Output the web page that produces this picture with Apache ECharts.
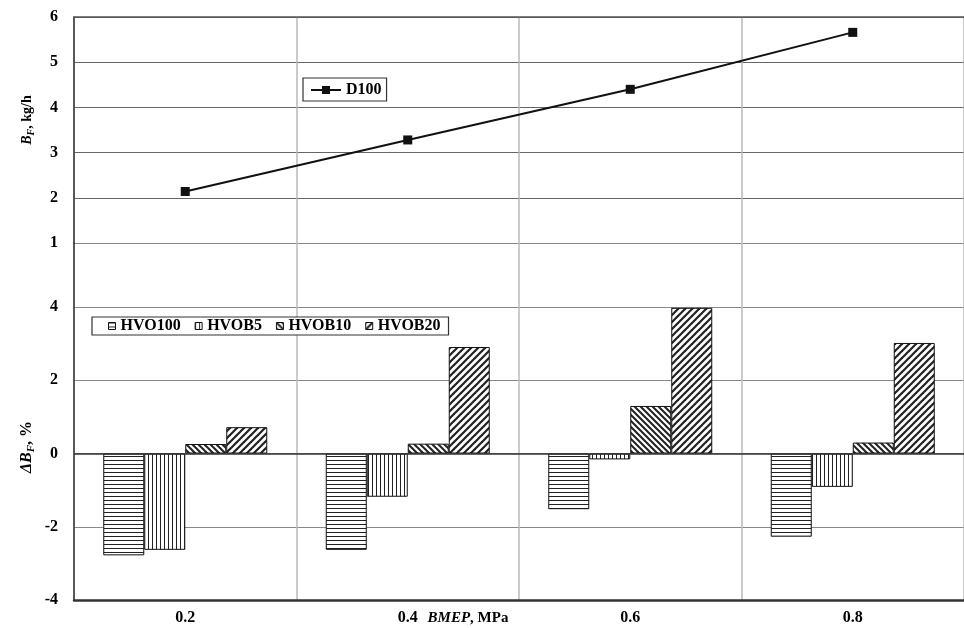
<!DOCTYPE html>
<html>
<head>
<meta charset="utf-8">
<script src="https://cdn.jsdelivr.net/npm/echarts@6/dist/echarts.min.js"></script>
<style>
html,body{margin:0;padding:0;background:#fff;}
#chart{width:964px;height:628px;}
</style>
</head>
<body>
<div id="chart"></div>
<script>
// ---- data ----
const categories = ['0.2', '0.4', '0.6', '0.8'];
const d100 = [2.14, 3.28, 4.40, 5.66];
const hvo100 = [-2.78, -2.63, -1.52, -2.27];
const hvob5 = [-2.63, -1.18, -0.16, -0.91];
const hvob10 = [0.26, 0.27, 1.30, 0.30];
const hvob20 = [0.72, 2.91, 3.98, 3.02];
const topTicks = [1, 2, 3, 4, 5, 6];
const bottomTicks = [-4, -2, 0, 2, 4];

// ---- patterns ----
function tile(w, h, draw) {
  const c = document.createElement('canvas');
  c.width = w; c.height = h;
  const ctx = c.getContext('2d');
  ctx.fillStyle = '#fff';
  ctx.fillRect(0, 0, w, h);
  ctx.strokeStyle = '#222';
  ctx.fillStyle = '#222';
  draw(ctx, w, h);
  return { image: c, repeat: 'repeat' };
}
const patH = tile(4, 4, (ctx, w) => { ctx.fillRect(0, 0, w, 1); });
const patV = tile(4, 4, (ctx, w, h) => { ctx.fillRect(0, 0, 1, h); });
function diag(n, lw, forward) {
  return tile(n, n, (ctx) => {
    ctx.lineWidth = lw;
    ctx.lineCap = 'square';
    const segs = forward
      ? [[-n, n, n, -n], [0, n, n, 0], [0, 2 * n, 2 * n, 0]]
      : [[-n, 0, n, 2 * n], [0, 0, n, n], [0, -n, 2 * n, n]];
    segs.forEach(s => { ctx.beginPath(); ctx.moveTo(s[0], s[1]); ctx.lineTo(s[2], s[3]); ctx.stroke(); });
  });
}
const patBack = diag(6, 2, false);
const patFwd = diag(7, 2.2, true);

const FONT = '"Liberation Serif", "Times New Roman", serif';
const lblStyle = { fontFamily: FONT, fontWeight: 'bold', fontSize: 16, color: '#000' };

const chart = echarts.init(document.getElementById('chart'), null, { renderer: 'canvas' });

function barSeries(name, data, pat, extra) {
  return Object.assign({
    name: name,
    type: 'bar',
    xAxisIndex: 1,
    yAxisIndex: 1,
    data: data,
    barWidth: 41,
    barGap: '0%',
    itemStyle: { color: pat, borderColor: '#111', borderWidth: 1 },
    emphasis: { disabled: true },
    animation: false
  }, extra || {});
}

function makeRich(fs) {
  return {
    i: { fontFamily: FONT, fontStyle: 'italic', fontWeight: 'bold', fontSize: fs, lineHeight: fs + 2, verticalAlign: 'top', fill: '#000' },
    n: { fontFamily: FONT, fontWeight: 'bold', fontSize: fs, lineHeight: fs + 2, verticalAlign: 'top', fill: '#000' },
    s: { fontFamily: FONT, fontStyle: 'italic', fontWeight: 'bold', fontSize: Math.round(fs * 0.7), lineHeight: 8, verticalAlign: 'bottom', fill: '#000' }
  };
}

const option = {
  backgroundColor: '#fff',
  animation: false,
  grid: [
    { left: 74, top: 17, width: 892, height: 226 },
    { left: 74, top: 243, width: 892, height: 357 }
  ],
  xAxis: [
    {
      type: 'category', gridIndex: 0, data: categories, position: 'top',
      axisLine: { show: true, lineStyle: { color: '#555', width: 1.5 } },
      axisTick: { show: false }, axisLabel: { show: false },
      splitLine: { show: true, lineStyle: { color: '#b8b8b8', width: 1.5 } }
    },
    {
      type: 'category', gridIndex: 1, data: categories, position: 'bottom',
      axisLine: { show: true, onZero: false, lineStyle: { color: '#333', width: 2.5 } },
      axisTick: { show: false },
      axisLabel: Object.assign({ margin: 10 }, lblStyle),
      splitLine: { show: true, lineStyle: { color: '#b8b8b8', width: 1.5 } }
    }
  ],
  yAxis: [
    {
      type: 'value', gridIndex: 0, min: topTicks[0], max: topTicks[topTicks.length - 1], interval: 1,
      axisLine: { show: true, lineStyle: { color: '#333', width: 1.5 } },
      axisTick: { show: false },
      axisLabel: Object.assign({ margin: 16 }, lblStyle),
      splitLine: { show: true, lineStyle: { color: '#666', width: 1.2 } }
    },
    {
      type: 'value', gridIndex: 1, min: bottomTicks[0], max: 5.75, interval: 2,
      axisLine: { show: true, lineStyle: { color: '#333', width: 1.5 } },
      axisTick: { show: false },
      axisLabel: Object.assign({
        margin: 16, showMaxLabel: false,
        formatter: v => (bottomTicks.indexOf(v) >= 0 ? String(v) : '')
      }, lblStyle),
      splitLine: { show: true, lineStyle: { color: '#888', width: 1.2 } }
    }
  ],
  legend: [
    {
      data: ['D100'], left: 303, top: 78,
      orient: 'horizontal',
      backgroundColor: '#fff',
      borderColor: '#333', borderWidth: 1.2,
      padding: [4, 5, 3, 7],
      itemWidth: 30, itemHeight: 10,
      textStyle: lblStyle, selectedMode: false
    },
    {
      data: ['HVO100', 'HVOB5', 'HVOB10', 'HVOB20'], left: 92, top: 317,
      orient: 'horizontal',
      backgroundColor: '#fff',
      borderColor: '#333', borderWidth: 1.2,
      padding: [1, 8, 1, 16],
      itemGap: 14, itemWidth: 7, itemHeight: 7,
      icon: 'rect',
      itemStyle: { borderColor: '#111', borderWidth: 1 },
      textStyle: lblStyle, selectedMode: false
    }
  ],
  graphic: [
    {
      type: 'text', x: 28, y: 120, rotation: Math.PI / 2,
      style: { text: '{i|B}{s|F}{n|, kg/h}', rich: makeRich(14), align: 'center', verticalAlign: 'middle' }
    },
    {
      type: 'text', x: 28, y: 447, rotation: Math.PI / 2,
      style: { text: '{i|ΔB}{s|F}{n|, %}', rich: makeRich(16), align: 'center', verticalAlign: 'middle' }
    },
    {
      type: 'text', x: 468, y: 619,
      style: { text: '{i|BMEP}{n|, MPa}', rich: makeRich(15), align: 'center', verticalAlign: 'middle' }
    }
  ],
  series: [
    {
      name: 'D100', type: 'line', xAxisIndex: 0, yAxisIndex: 0, data: d100,
      symbol: 'rect', symbolSize: 9,
      lineStyle: { color: '#111', width: 2 },
      itemStyle: { color: '#111' },
      emphasis: { disabled: true }
    },
    barSeries('HVO100', hvo100, patH, {
      markLine: {
        silent: true, symbol: 'none', label: { show: false },
        lineStyle: { color: '#333', width: 1.5, type: 'solid' },
        data: [{ yAxis: 0 }]
      }
    }),
    barSeries('HVOB5', hvob5, patV),
    barSeries('HVOB10', hvob10, patBack),
    barSeries('HVOB20', hvob20, patFwd)
  ]
};
chart.setOption(option);
</script>
</body>
</html>
